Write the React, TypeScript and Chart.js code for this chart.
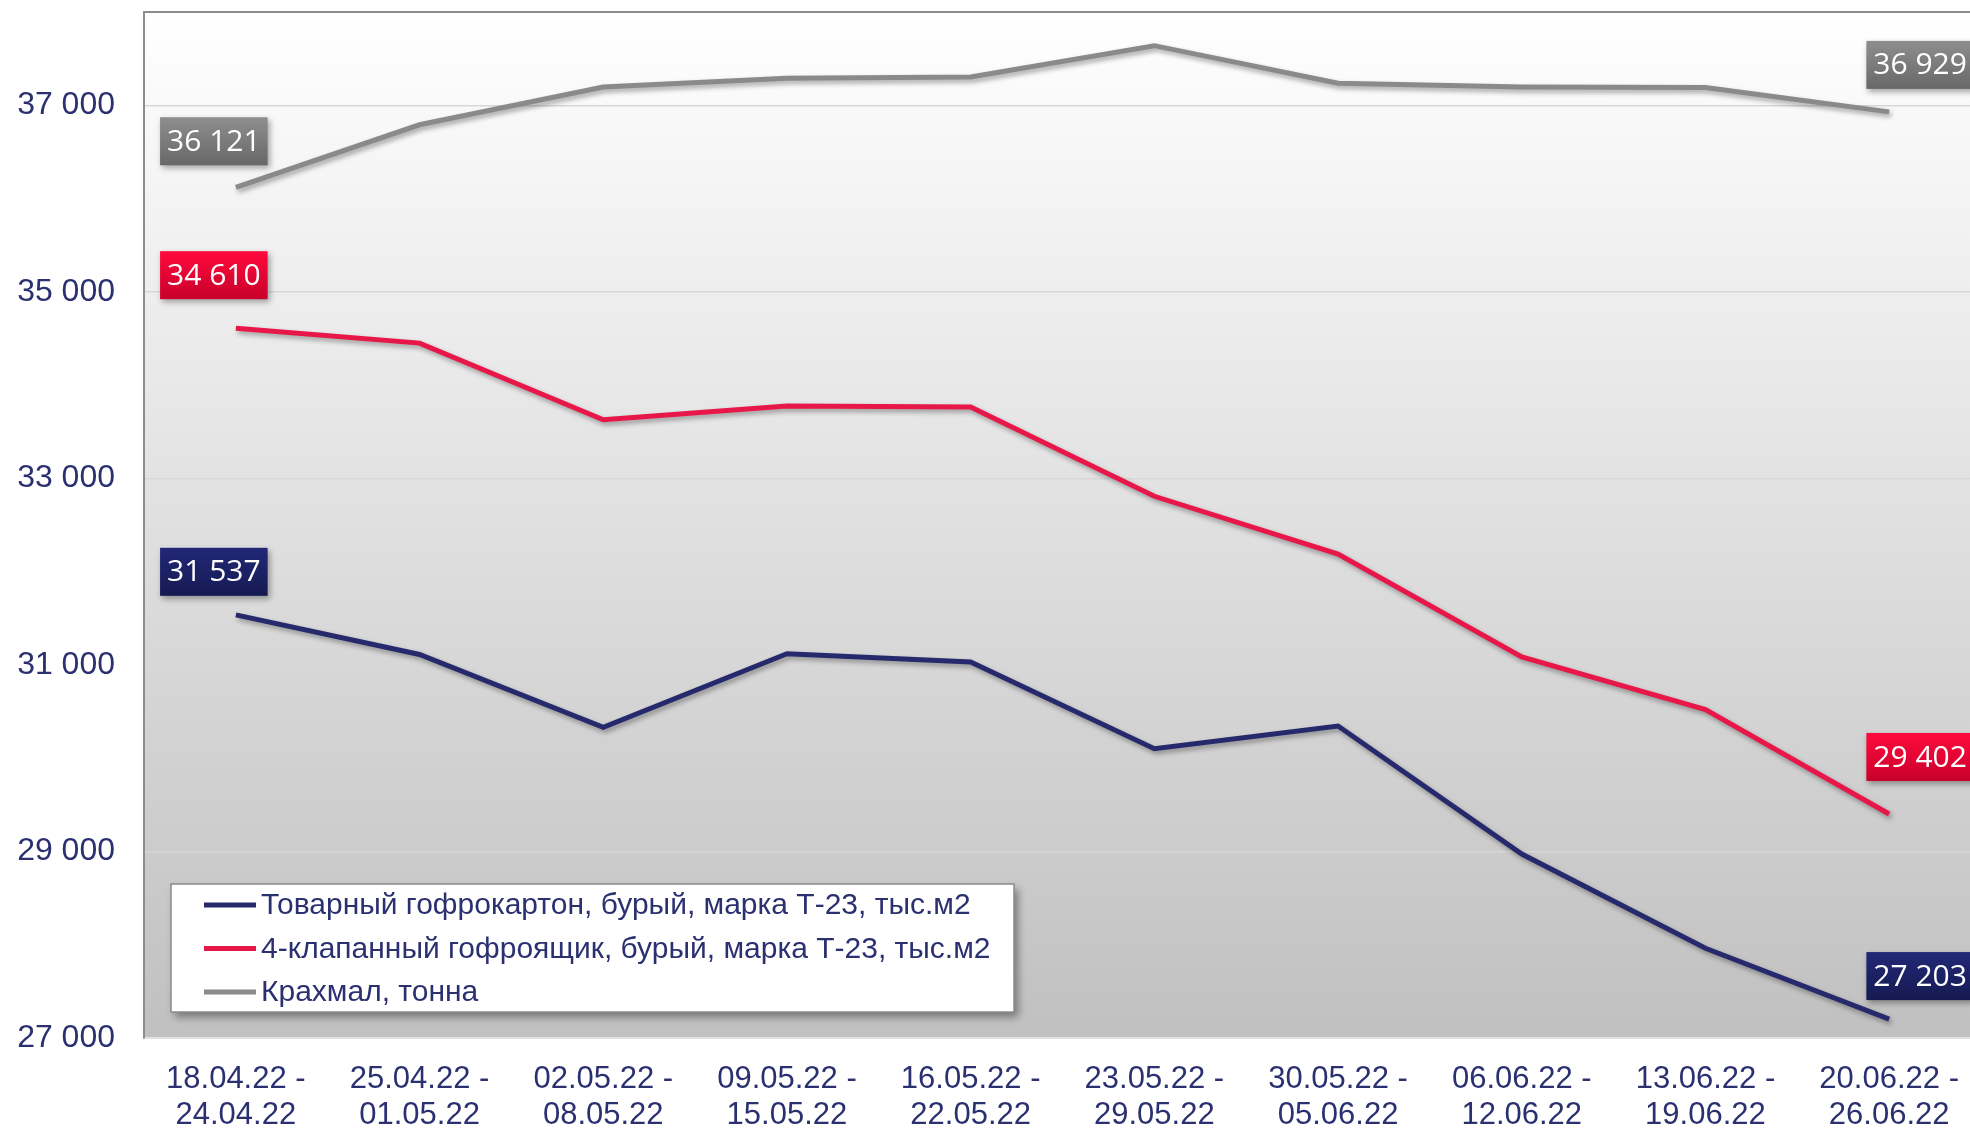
import React, { useEffect, useRef } from "react";
import { Chart, registerables } from "chart.js";

Chart.register(...registerables);

const categories: string[][] = [
  ["18.04.22 -", "24.04.22"],
  ["25.04.22 -", "01.05.22"],
  ["02.05.22 -", "08.05.22"],
  ["09.05.22 -", "15.05.22"],
  ["16.05.22 -", "22.05.22"],
  ["23.05.22 -", "29.05.22"],
  ["30.05.22 -", "05.06.22"],
  ["06.06.22 -", "12.06.22"],
  ["13.06.22 -", "19.06.22"],
  ["20.06.22 -", "26.06.22"],
];

const seriesNames = [
  "Товарный гофрокартон, бурый, марка Т-23, тыс.м2",
  "4-клапанный гофроящик, бурый, марка Т-23, тыс.м2",
  "Крахмал, тонна",
];

const cardboard = [31537, 31112, 30331, 31120, 31031, 30102, 30345, 28972, 27962, 27203];
const boxes = [34610, 34450, 33629, 33777, 33764, 32808, 32188, 31085, 30520, 29402];
const starch = [36121, 36791, 37195, 37289, 37303, 37639, 37236, 37195, 37190, 36929];

const yTicks = [27000, 29000, 31000, 33000, 35000, 37000];
const yMin = 27000;
const yMax = 38000;

const lineColors = ["#262a6c", "#e8174a", "#8a8a8a"];
const labelGrad = [
  ["#222877", "#161a52"],
  ["#ff0a3c", "#c8002b"],
  ["#8e8e8e", "#686868"],
];
const firstLabelOffset = [-43, -53, -46];
const lastLabelOffset = [-43, -57, -47];
const textColor = "#2b3070";

const fmt = (v: number) => String(Math.round(v)).replace(/\B(?=(\d{3})+(?!\d))/g, " ");

const bgPlugin = {
  id: "bgPlugin",
  beforeDraw(chart: any) {
    const { ctx, chartArea } = chart;
    const g = ctx.createLinearGradient(0, chartArea.top, 0, chartArea.bottom);
    g.addColorStop(0, "#ffffff");
    g.addColorStop(1, "#c0c0c0");
    ctx.save();
    ctx.fillStyle = g;
    ctx.fillRect(chartArea.left, chartArea.top, chartArea.right - chartArea.left, chartArea.bottom - chartArea.top);
    ctx.restore();
  },
  beforeDatasetsDraw(chart: any) {
    const { ctx, chartArea } = chart;
    ctx.save();
    ctx.strokeStyle = "#8c8c8c";
    ctx.lineWidth = 2;
    ctx.beginPath();
    ctx.moveTo(chartArea.left, chartArea.top);
    ctx.lineTo(chartArea.right, chartArea.top);
    ctx.stroke();
    ctx.restore();
  },
  beforeDatasetDraw(chart: any) {
    const ctx = chart.ctx;
    ctx.save();
    ctx.shadowColor = "rgba(0,0,0,0.35)";
    ctx.shadowBlur = 5;
    ctx.shadowOffsetX = 2;
    ctx.shadowOffsetY = 3;
  },
  afterDatasetDraw(chart: any) {
    chart.ctx.restore();
  },
};

const labelPlugin = {
  id: "labelPlugin",
  afterDatasetsDraw(chart: any) {
    const ctx = chart.ctx;
    chart.data.datasets.forEach((ds: any, di: number) => {
      const meta = chart.getDatasetMeta(di);
      const last = ds.data.length - 1;
      [0, last].forEach((i) => {
        const pt = meta.data[i];
        const text = fmt(ds.data[i]);
        ctx.save();
        ctx.font = '30px "Open Sans"';
        const w = ctx.measureText(text).width + 14;
        const h = 48;
        const cx = pt.x + (i === 0 ? -22 : 31);
        const cy = pt.y + (i === 0 ? firstLabelOffset[di] : lastLabelOffset[di]);
        const x = cx - w / 2;
        const y = cy - h / 2;
        const g = ctx.createLinearGradient(0, y, 0, y + h);
        g.addColorStop(0, labelGrad[di][0]);
        g.addColorStop(1, labelGrad[di][1]);
        ctx.shadowColor = "rgba(0,0,0,0.35)";
        ctx.shadowBlur = 6;
        ctx.shadowOffsetX = 2;
        ctx.shadowOffsetY = 3;
        ctx.fillStyle = g;
        ctx.fillRect(x, y, w, h);
        ctx.shadowColor = "transparent";
        ctx.fillStyle = "#ffffff";
        ctx.textAlign = "center";
        ctx.textBaseline = "middle";
        ctx.fillText(text, cx, cy + 1);
        ctx.restore();
      });
    });
  },
};

const legendPlugin = {
  id: "legendPlugin",
  afterDraw(chart: any) {
    const ctx = chart.ctx;
    const bx = 171, by = 884, bw = 843, bh = 128;
    ctx.save();
    ctx.shadowColor = "rgba(0,0,0,0.4)";
    ctx.shadowBlur = 8;
    ctx.shadowOffsetX = 4;
    ctx.shadowOffsetY = 5;
    ctx.fillStyle = "#ffffff";
    ctx.fillRect(bx, by, bw, bh);
    ctx.shadowColor = "transparent";
    ctx.strokeStyle = "#8a8a8a";
    ctx.lineWidth = 1.5;
    ctx.strokeRect(bx, by, bw, bh);
    ctx.font = '30px "Liberation Sans"';
    ctx.textBaseline = "middle";
    ctx.textAlign = "left";
    chart.data.datasets.forEach((ds: any, di: number) => {
      const ry = by + 21 + di * 43.5;
      ctx.strokeStyle = ds.borderColor;
      ctx.lineWidth = 5;
      ctx.beginPath();
      ctx.moveTo(204, ry);
      ctx.lineTo(256, ry);
      ctx.stroke();
      ctx.fillStyle = textColor;
      ctx.fillText(ds.label, 261, ry + 1);
    });
    ctx.restore();
  },
};

export default function App() {
  const ref = useRef<HTMLCanvasElement | null>(null);
  useEffect(() => {
    if (!ref.current) return;
    const chart = new Chart(ref.current, {
      type: "line",
      data: {
        labels: categories,
        datasets: [cardboard, boxes, starch].map((d, i) => ({
          label: seriesNames[i],
          data: d,
          borderColor: lineColors[i],
          backgroundColor: lineColors[i],
          borderWidth: 5,
          pointRadius: 0,
          tension: 0,
        })),
      },
      options: {
        animation: false,
        responsive: false,
        layout: { padding: { top: 12, right: 0, left: 0, bottom: 0 } },
        plugins: { legend: { display: false }, tooltip: { enabled: false } },
        scales: {
          x: {
            type: "category",
            offset: true,
            grid: { display: false, drawTicks: false },
            border: { display: true, color: "#e2e2e2", width: 2 },
            ticks: {
              color: textColor,
              font: { family: "'Liberation Sans'", size: 31, lineHeight: 1.18 },
              padding: 23,
              maxRotation: 0,
              autoSkip: false,
            },
            afterFit: (s: any) => {
              s.height = 90;
              s.paddingLeft = 0;
              s.paddingRight = 0;
            },
          },
          y: {
            min: yMin,
            max: yMax,
            afterBuildTicks: (s: any) => {
              s.ticks = yTicks.map((v) => ({ value: v }));
            },
            grid: { color: "#d7d7d7", lineWidth: 1.5, drawTicks: false },
            border: { display: true, color: "#8c8c8c", width: 2 },
            ticks: {
              color: textColor,
              font: { family: "'Liberation Sans'", size: 32 },
              padding: 29,
              callback: (v: any) => fmt(Number(v)),
            },
            afterFit: (s: any) => {
              s.width = 144;
              s.paddingTop = 0;
              s.paddingBottom = 0;
            },
          },
        },
      },
      plugins: [bgPlugin, labelPlugin, legendPlugin],
    } as any);
    return () => chart.destroy();
  }, []);
  return (
    <div style={{ position: "fixed", left: 0, top: 0, width: 1970, height: 1128, overflow: "hidden", background: "#fff" }}>
      <canvas ref={ref} width={1981} height={1128} style={{ width: 1981, height: 1128, display: "block" }} />
    </div>
  );
}
